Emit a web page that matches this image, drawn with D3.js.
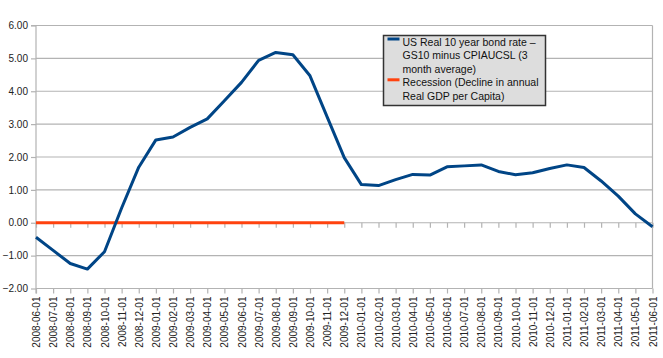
<!DOCTYPE html>
<html>
<head>
<meta charset="utf-8">
<script src="https://cdn.jsdelivr.net/npm/d3@7"></script>
<style>
  body { margin: 0; background: #fff; }
  svg { display: block; font-family: "Liberation Sans", Arial, sans-serif; }
</style>
</head>
<body>
<div id="chart"></div>
<script>
const months = [
    "2008-06-01", "2008-07-01", "2008-08-01", "2008-09-01", "2008-10-01", "2008-11-01", "2008-12-01",
    "2009-01-01", "2009-02-01", "2009-03-01", "2009-04-01", "2009-05-01", "2009-06-01", "2009-07-01",
    "2009-08-01", "2009-09-01", "2009-10-01", "2009-11-01", "2009-12-01",
    "2010-01-01", "2010-02-01", "2010-03-01", "2010-04-01", "2010-05-01", "2010-06-01", "2010-07-01",
    "2010-08-01", "2010-09-01", "2010-10-01", "2010-11-01", "2010-12-01",
    "2011-01-01", "2011-02-01", "2011-03-01", "2011-04-01", "2011-05-01", "2011-06-01"
];

const realRate = [
    -0.44, -0.84, -1.24, -1.41, -0.88, 0.45, 1.69,
    2.52, 2.61, 2.90, 3.16, 3.71, 4.27, 4.94,
    5.18, 5.11, 4.47, 3.22, 1.98,
    1.16, 1.13, 1.31, 1.47, 1.45, 1.70, 1.73,
    1.76, 1.56, 1.46, 1.52, 1.65,
    1.76, 1.68, 1.27, 0.81, 0.27, -0.12
];

// recession flag series (0 while in recession, blank otherwise)
const recession = months.map((m, i) => i <= 18 ? 0 : null);

const yTicks = [-2, -1, 0, 1, 2, 3, 4, 5, 6];

const legendLines = [
    {color: "#004586", text: ["US Real 10 year bond rate \u2013", "GS10 minus CPIAUCSL (3", "month average)"]},
    {color: "#ff420e", text: ["Recession (Decline in annual", "Real GDP per Capita)"]}
];

const width = 663, height = 358;
const margin = {top: 25.5, right: 10.5, bottom: 69.5, left: 36};
const plotW = width - margin.left - margin.right,
    plotH = height - margin.top - margin.bottom;

const svg = d3.select("#chart").append("svg")
    .attr("width", width)
    .attr("height", height);

const g = svg.append("g")
    .attr("transform", `translate(${margin.left}, ${margin.top})`);

let x = d3.scalePoint().domain(months).range([0, plotW]);
let y = d3.scaleLinear().domain([-2, 6]).range([plotH, 0]);

const gridColor = "#b3b3b3";

// horizontal grid
g.selectAll(".grid")
    .data(yTicks)
    .enter().append("line")
    .attr("class", "grid")
    .attr("x1", 0)
    .attr("x2", plotW)
    .attr("y1", d => y(d))
    .attr("y2", d => y(d))
    .style("stroke", gridColor)
    .style("stroke-width", 1.2);

// right border
g.append("line")
    .attr("x1", plotW).attr("x2", plotW)
    .attr("y1", 0).attr("y2", plotH)
    .style("stroke", gridColor)
    .style("stroke-width", 1.2);

// y axis
const yAxis = g.append("g")
    .call(d3.axisLeft(y).tickValues(yTicks).tickFormat(d3.format(".2f")).tickSize(5).tickPadding(3));
yAxis.select(".domain").style("stroke", gridColor).style("stroke-width", 1.2)
    .attr("d", `M-5,${y(6)}H0V${plotH + 5}`);
yAxis.selectAll(".tick line").style("stroke", gridColor).style("stroke-width", 1.2);
yAxis.selectAll("text").style("font-size", "10px").style("fill", "#222");

// x axis crossing at zero (ticks only)
const xAxisZero = g.append("g")
    .attr("transform", `translate(0, ${y(0)})`)
    .call(d3.axisBottom(x).tickSize(5).tickFormat(""));
xAxisZero.select(".domain").remove();
xAxisZero.selectAll(".tick line").style("stroke", gridColor).style("stroke-width", 1.2);

// x axis at bottom with labels
const xAxis = g.append("g")
    .attr("transform", `translate(0, ${plotH})`)
    .call(d3.axisBottom(x).tickSize(5));
xAxis.select(".domain").remove();
xAxis.selectAll(".tick line").style("stroke", gridColor).style("stroke-width", 1.2);
xAxis.selectAll("text")
    .attr("transform", "rotate(-90)")
    .attr("text-anchor", "end")
    .attr("x", -8)
    .attr("y", 0)
    .attr("dy", "0.35em")
    .style("font-size", "10px")
    .style("fill", "#222");

// recession line
g.append("path")
    .datum(recession.map((v, i) => ({m: months[i], v: v})))
    .attr("fill", "none")
    .style("stroke", "#ff420e")
    .style("stroke-width", 3)
    .attr("d", d3.line()
        .defined(d => d.v !== null)
        .x(d => x(d.m))
        .y(d => y(d.v)));

// real rate line
g.append("path")
    .datum(realRate.map((v, i) => ({m: months[i], v: v})))
    .attr("fill", "none")
    .style("stroke", "#004586")
    .style("stroke-width", 3)
    .style("stroke-linejoin", "round")
    .attr("d", d3.line()
        .x(d => x(d.m))
        .y(d => y(d.v)));

// legend
const legend = svg.append("g").attr("transform", "translate(383.5, 35.5)");
legend.append("rect")
    .attr("width", 162)
    .attr("height", 70)
    .style("fill", "#dddddd")
    .style("stroke", "#333")
    .style("stroke-width", 1.5);

let lineY = 10;
legendLines.forEach(function (item) {
    legend.append("line")
        .attr("x1", 4).attr("x2", 16)
        .attr("y1", lineY - 6.5).attr("y2", lineY - 6.5)
        .style("stroke", item.color)
        .style("stroke-width", 3);
    item.text.forEach(function (t) {
        legend.append("text")
            .attr("x", 19)
            .attr("y", lineY)
            .style("font-size", "10.5px")
            .style("fill", "#111")
            .text(t);
        lineY += 13.6;
    });
});
</script>
</body>
</html>
